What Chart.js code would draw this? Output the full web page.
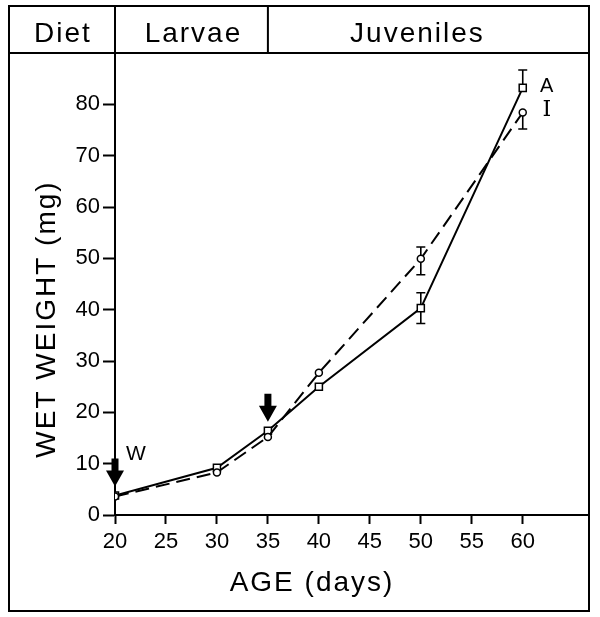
<!DOCTYPE html>
<html>
<head>
<meta charset="utf-8">
<script src="https://cdn.jsdelivr.net/npm/chart.js@4.4.1/dist/chart.umd.min.js"></script>
<style>
  html, body { margin: 0; padding: 0; background: #fff; }
  #wrap { width: 600px; height: 617px; }
</style>
</head>
<body>
<div id="wrap"><canvas id="chart"></canvas></div>
<script>
// DATA
const ages = [20, 30, 35, 40, 50, 60];
const artemiaWeight = [3.8, 9.2, 16.4, 25.0, 40.3, 83.2];   // squares, solid line (A)
const inertWeight = [3.6, 8.3, 15.2, 27.7, 49.9, 78.4];     // circles, dashed line (I)
const artemiaErrUp = [0, 0, 0, 0, 3.0, 3.5];
const artemiaErrDown = [0, 0, 0, 0, 3.0, 0];
const inertErrUp = [0, 0, 0, 0, 2.3, 0];
const inertErrDown = [0, 0, 0, 0, 3.1, 3.2];
const xTicks = [20, 25, 30, 35, 40, 45, 50, 55, 60];
const yTicks = [0, 10, 20, 30, 40, 50, 60, 70, 80];
const dietStages = ["Diet", "Larvae", "Juveniles"];
const stageBreak = 35;          // larvae -> juveniles diet change
const arrowDays = [20, 35];     // black arrows
const seriesLabels = ["A", "I"];

const FONT = "'Liberation Sans', Arial, sans-serif";

function toPoints(vals) {
    return ages.map((a, i) => ({ x: a, y: vals[i] }));
}

function drawArrow(ctx, x, tipY) {
    // thick black arrow pointing down, tip at tipY
    ctx.beginPath();
    ctx.moveTo(x - 3.5, tipY - 28);
    ctx.lineTo(x + 3.5, tipY - 28);
    ctx.lineTo(x + 3.5, tipY - 16);
    ctx.lineTo(x + 9, tipY - 16);
    ctx.lineTo(x, tipY);
    ctx.lineTo(x - 9, tipY - 16);
    ctx.lineTo(x - 3.5, tipY - 16);
    ctx.closePath();
    ctx.fill();
}

const figurePlugin = {
    id: "figure",
    beforeDatasetsDraw(chart) {
        const { ctx, scales: { x, y } } = chart;
        ctx.save();
        ctx.strokeStyle = "#000";
        ctx.lineWidth = 1.6;
        const bars = [
            [artemiaWeight, artemiaErrUp, artemiaErrDown],
            [inertWeight, inertErrUp, inertErrDown],
        ];
        for (const [vals, up, down] of bars) {
            ages.forEach((a, i) => {
                const px = x.getPixelForValue(a);
                const py = y.getPixelForValue(vals[i]);
                ctx.beginPath();
                if (up[i]) {
                    const t = y.getPixelForValue(vals[i] + up[i]);
                    ctx.moveTo(px, py); ctx.lineTo(px, t);
                    ctx.moveTo(px - 4.5, t); ctx.lineTo(px + 4.5, t);
                }
                if (down[i]) {
                    const b = y.getPixelForValue(vals[i] - down[i]);
                    ctx.moveTo(px, py); ctx.lineTo(px, b);
                    ctx.moveTo(px - 4.5, b); ctx.lineTo(px + 4.5, b);
                }
                ctx.stroke();
            });
        }
        ctx.restore();
    },
    afterDraw(chart) {
        const { ctx, chartArea: a, scales: { x, y } } = chart;
        const left = 9, top = 6, bottom = 611;
        ctx.save();
        ctx.strokeStyle = "#000";
        ctx.fillStyle = "#000";
        ctx.lineWidth = 2;

        // frame and header
        ctx.strokeRect(left, top, a.right - left, bottom - top);
        const xb = x.getPixelForValue(stageBreak);
        ctx.beginPath();
        ctx.moveTo(left, a.top); ctx.lineTo(a.right, a.top);
        ctx.moveTo(a.left, top); ctx.lineTo(a.left, a.top);
        ctx.moveTo(xb, top); ctx.lineTo(xb, a.top);
        ctx.stroke();

        ctx.font = "28px " + FONT;
        ctx.letterSpacing = "2px";
        ctx.textAlign = "center";
        ctx.textBaseline = "alphabetic";
        ctx.fillText(dietStages[0], (left + a.left) / 2 + 1, 42);
        ctx.fillText(dietStages[1], (a.left + xb) / 2 + 2, 42);
        ctx.fillText(dietStages[2], (xb + a.right) / 2 - 11, 42);

        // axis titles
        ctx.font = "28px " + FONT;
        ctx.fillText("AGE (days)", 312, 591);
        ctx.save();
        ctx.translate(55, 319);
        ctx.rotate(-Math.PI / 2);
        ctx.fillText("WET WEIGHT (mg)", 0, 0);
        ctx.restore();

        // arrows
        arrowDays.forEach(d => {
            const i = ages.indexOf(d);
            const px = x.getPixelForValue(d);
            const py = y.getPixelForValue(artemiaWeight[i]);
            drawArrow(ctx, px, py - 9);
        });

        // annotations
        ctx.letterSpacing = "0px";
        ctx.font = "21px " + FONT;
        const p0 = y.getPixelForValue(artemiaWeight[0]);
        ctx.fillText("W", x.getPixelForValue(ages[0]) + 21, p0 - 35);

        const last = ages.length - 1;
        const lx = x.getPixelForValue(ages[last]) + 24;
        ctx.font = "20px " + FONT;
        ctx.fillText(seriesLabels[0], lx, y.getPixelForValue(artemiaWeight[last]) + 4);
        ctx.font = "22px 'DejaVu Serif', serif";
        ctx.fillText(seriesLabels[1], lx, y.getPixelForValue(inertWeight[last]) + 3);
        ctx.restore();
    },
};

new Chart(document.getElementById("chart"), {
    type: "line",
    data: {
        datasets: [
            {
                label: "Inert",
                data: toPoints(inertWeight),
                borderColor: "#000",
                borderWidth: 2,
                borderDash: [14, 7],
                pointStyle: "circle",
                pointRadius: 3.5,
                pointBorderWidth: 1.5,
                pointBackgroundColor: "#fff",
                pointBorderColor: "#000",
                tension: 0,
            },
            {
                label: "Artemia",
                data: toPoints(artemiaWeight),
                borderColor: "#000",
                borderWidth: 2,
                pointStyle: "rect",
                pointRadius: 5,
                pointBorderWidth: 1.5,
                pointBackgroundColor: "#fff",
                pointBorderColor: "#000",
                tension: 0,
            },
        ],
    },
    options: {
        responsive: true,
        maintainAspectRatio: false,
        animation: false,
        layout: { padding: { top: 53, right: 11, left: 0, bottom: 0 } },
        plugins: { legend: { display: false }, tooltip: { enabled: false } },
        scales: {
            x: {
                type: "linear",
                min: 20,
                max: 66.5,
                afterBuildTicks: s => { s.ticks = xTicks.map(v => ({ value: v })); },
                afterFit: s => { s.height = 102; },
                grid: { drawOnChartArea: false, tickLength: 9, tickColor: "#000", tickWidth: 2 },
                border: { color: "#000", width: 2 },
                ticks: { color: "#000", font: { family: FONT, size: 22 }, padding: 5, maxRotation: 0 },
            },
            y: {
                min: 0,
                max: 90,
                afterBuildTicks: s => { s.ticks = yTicks.map(v => ({ value: v })); },
                afterFit: s => { s.width = 115; },
                grid: { drawOnChartArea: false, tickLength: 12, tickColor: "#000", tickWidth: 2 },
                border: { color: "#000", width: 2 },
                ticks: { color: "#000", font: { family: FONT, size: 22 }, padding: 3 },
            },
        },
    },
    plugins: [figurePlugin],
});
</script>
</body>
</html>
